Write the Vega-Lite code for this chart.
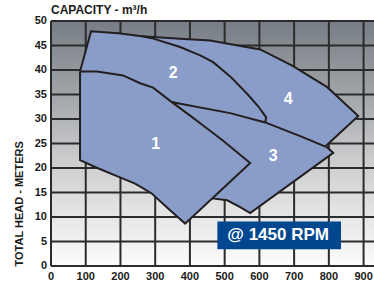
{
  "$schema": "https://vega.github.io/schema/vega-lite/v6.json",
  "width": 323,
  "height": 245,
  "autosize": "none",
  "padding": {"left": 51, "top": 21, "right": 0, "bottom": 18},
  "background": "white",
  "view": {"stroke": null},
  "title": {
    "text": "CAPACITY - m³/h",
    "anchor": "start",
    "frame": "group",
    "font": "Liberation Sans",
    "fontSize": 12,
    "fontWeight": "bold",
    "color": "#1a1a1a",
    "offset": -2
  },
  "datasets": {
    "bg": [{"x": 0, "x2": 930, "y": 0, "y2": 50}],
    "gridx": [{"v": 0}, {"v": 100}, {"v": 200}, {"v": 300}, {"v": 400}, {"v": 500}, {"v": 600}, {"v": 700}, {"v": 800}, {"v": 900}],
    "gridy": [{"v": 0}, {"v": 5}, {"v": 10}, {"v": 15}, {"v": 20}, {"v": 25}, {"v": 30}, {"v": 35}, {"v": 40}, {"v": 45}, {"v": 50}],
    "shapes": [
      {"region": "4", "i": 0, "x": 261.4, "y": 46.9},
      {"region": "4", "i": 1, "x": 371.8, "y": 46.4},
      {"region": "4", "i": 2, "x": 458.2, "y": 46.0},
      {"region": "4", "i": 3, "x": 602.3, "y": 44.2},
      {"region": "4", "i": 4, "x": 694.5, "y": 40.9},
      {"region": "4", "i": 5, "x": 795.4, "y": 36.5},
      {"region": "4", "i": 6, "x": 884.7, "y": 30.6},
      {"region": "4", "i": 7, "x": 775.0, "y": 23.4},
      {"region": "4", "i": 8, "x": 616.7, "y": 29.3},
      {"region": "4", "i": 9, "x": 348.7, "y": 33.4},
      {"region": "4", "i": 10, "x": 261.4, "y": 46.9},

      {"region": "2", "i": 0, "x": 83.6, "y": 39.7},
      {"region": "2", "i": 1, "x": 115.3, "y": 47.9},
      {"region": "2", "i": 2, "x": 194.0, "y": 47.5},
      {"region": "2", "i": 3, "x": 261.4, "y": 46.9},
      {"region": "2", "i": 4, "x": 290.2, "y": 46.5},
      {"region": "2", "i": 5, "x": 371.8, "y": 44.7},
      {"region": "2", "i": 6, "x": 429.4, "y": 43.0},
      {"region": "2", "i": 7, "x": 466.9, "y": 41.6},
      {"region": "2", "i": 8, "x": 515.9, "y": 38.7},
      {"region": "2", "i": 9, "x": 564.0, "y": 35.2},
      {"region": "2", "i": 10, "x": 596.5, "y": 32.6},
      {"region": "2", "i": 11, "x": 611.8, "y": 31.1},
      {"region": "2", "i": 12, "x": 619.6, "y": 30.3},
      {"region": "2", "i": 13, "x": 616.7, "y": 29.3},
      {"region": "2", "i": 14, "x": 348.7, "y": 33.4},
      {"region": "2", "i": 15, "x": 83.6, "y": 39.7},

      {"region": "3", "i": 0, "x": 348.7, "y": 33.4},
      {"region": "3", "i": 1, "x": 515.9, "y": 31.2},
      {"region": "3", "i": 2, "x": 616.7, "y": 29.3},
      {"region": "3", "i": 3, "x": 717.6, "y": 26.5},
      {"region": "3", "i": 4, "x": 795.4, "y": 24.2},
      {"region": "3", "i": 5, "x": 812.7, "y": 23.1},
      {"region": "3", "i": 6, "x": 573.5, "y": 10.8},
      {"region": "3", "i": 7, "x": 544.7, "y": 12.0},
      {"region": "3", "i": 8, "x": 507.2, "y": 13.4},
      {"region": "3", "i": 9, "x": 463.9, "y": 13.8},
      {"region": "3", "i": 10, "x": 429.4, "y": 15.4},
      {"region": "3", "i": 11, "x": 348.7, "y": 33.4},

      {"region": "1", "i": 0, "x": 83.6, "y": 39.7},
      {"region": "1", "i": 1, "x": 132.6, "y": 39.7},
      {"region": "1", "i": 2, "x": 207.5, "y": 38.9},
      {"region": "1", "i": 3, "x": 256.5, "y": 37.3},
      {"region": "1", "i": 4, "x": 294.0, "y": 36.4},
      {"region": "1", "i": 5, "x": 348.7, "y": 33.4},
      {"region": "1", "i": 6, "x": 400.6, "y": 30.7},
      {"region": "1", "i": 7, "x": 446.7, "y": 28.2},
      {"region": "1", "i": 8, "x": 492.8, "y": 25.7},
      {"region": "1", "i": 9, "x": 573.5, "y": 21.0},
      {"region": "1", "i": 10, "x": 386.2, "y": 8.65},
      {"region": "1", "i": 11, "x": 338.0, "y": 11.7},
      {"region": "1", "i": 12, "x": 290.2, "y": 14.8},
      {"region": "1", "i": 13, "x": 242.1, "y": 16.8},
      {"region": "1", "i": 14, "x": 184.4, "y": 18.5},
      {"region": "1", "i": 15, "x": 126.8, "y": 20.2},
      {"region": "1", "i": 16, "x": 83.6, "y": 21.6},
      {"region": "1", "i": 17, "x": 83.6, "y": 39.7}
    ],
    "labels": [
      {"label": "1", "x": 301.4, "y": 25.0},
      {"label": "2", "x": 351.6, "y": 39.3},
      {"label": "3", "x": 639.8, "y": 22.4},
      {"label": "4", "x": 683.0, "y": 34.0}
    ],
    "badge": [
      {"text": "@ 1450 RPM", "x": 479, "x2": 835, "y": 3.4, "y2": 9.1, "tx": 654, "ty": 6.27}
    ]
  },
  "layer": [
    {
      "data": {"name": "bg"},
      "mark": {
        "type": "rect",
        "color": {
          "gradient": "linear", "x1": 0, "y1": 0, "x2": 0, "y2": 1,
          "stops": [
            {"offset": 0, "color": "#777d85"},
            {"offset": 0.3, "color": "#a1a5a9"},
            {"offset": 0.55, "color": "#c9cacc"},
            {"offset": 0.8, "color": "#e6e6e6"},
            {"offset": 1, "color": "#fcfcfc"}
          ]
        }
      },
      "encoding": {
        "x": {
          "field": "x", "type": "quantitative",
          "scale": {"domain": [0, 930], "nice": false, "zero": false},
          "axis": {"title": null, "labels": false, "ticks": false, "domain": false}
        },
        "x2": {"field": "x2"},
        "y": {
          "field": "y", "type": "quantitative",
          "scale": {"domain": [0, 50], "nice": false},
          "axis": {
            "labels": false, "ticks": false, "domain": false,
            "title": "TOTAL HEAD - METERS",
            "titleX": -27, "titleY": 245, "titleAngle": -90,
            "titleAlign": "left", "titleBaseline": "bottom"
          }
        },
        "y2": {"field": "y2"}
      }
    },
    {
      "data": {"name": "gridx"},
      "mark": {"type": "rule", "color": "#2b2b2b", "strokeWidth": 2},
      "encoding": {"x": {"field": "v", "type": "quantitative"}}
    },
    {
      "data": {"name": "gridy"},
      "mark": {"type": "rule", "color": "#2b2b2b", "strokeWidth": 2},
      "encoding": {"y": {"field": "v", "type": "quantitative"}}
    },
    {
      "data": {"name": "gridx"},
      "mark": {"type": "text", "font": "Liberation Sans", "fontWeight": "bold", "fontSize": 11, "color": "#1a1a1a", "baseline": "top", "align": "center", "dy": 5},
      "encoding": {
        "x": {"field": "v", "type": "quantitative"},
        "y": {"datum": 0, "type": "quantitative"},
        "text": {"field": "v"}
      }
    },
    {
      "data": {"name": "gridy"},
      "mark": {"type": "text", "font": "Liberation Sans", "fontWeight": "bold", "fontSize": 11, "color": "#1a1a1a", "baseline": "middle", "align": "right", "dx": -4},
      "encoding": {
        "x": {"datum": 0, "type": "quantitative"},
        "y": {"field": "v", "type": "quantitative"},
        "text": {"field": "v"}
      }
    },
    {
      "data": {"name": "shapes"},
      "transform": [{"filter": "datum.region == '4'"}],
      "mark": {"type": "line", "fill": "#8a9cc8", "stroke": "#231f20", "strokeWidth": 2, "strokeJoin": "miter"},
      "encoding": {
        "x": {"field": "x", "type": "quantitative"},
        "y": {"field": "y", "type": "quantitative"},
        "order": {"field": "i", "type": "quantitative"}
      }
    },
    {
      "data": {"name": "shapes"},
      "transform": [{"filter": "datum.region == '2'"}],
      "mark": {"type": "line", "fill": "#8a9cc8", "stroke": "#231f20", "strokeWidth": 2, "strokeJoin": "miter"},
      "encoding": {
        "x": {"field": "x", "type": "quantitative"},
        "y": {"field": "y", "type": "quantitative"},
        "order": {"field": "i", "type": "quantitative"}
      }
    },
    {
      "data": {"name": "shapes"},
      "transform": [{"filter": "datum.region == '3'"}],
      "mark": {"type": "line", "fill": "#8a9cc8", "stroke": "#231f20", "strokeWidth": 2, "strokeJoin": "miter"},
      "encoding": {
        "x": {"field": "x", "type": "quantitative"},
        "y": {"field": "y", "type": "quantitative"},
        "order": {"field": "i", "type": "quantitative"}
      }
    },
    {
      "data": {"name": "shapes"},
      "transform": [{"filter": "datum.region == '1'"}],
      "mark": {"type": "line", "fill": "#8a9cc8", "stroke": "#231f20", "strokeWidth": 2, "strokeJoin": "miter"},
      "encoding": {
        "x": {"field": "x", "type": "quantitative"},
        "y": {"field": "y", "type": "quantitative"},
        "order": {"field": "i", "type": "quantitative"}
      }
    },
    {
      "data": {"name": "labels"},
      "mark": {"type": "text", "font": "Liberation Sans", "fontWeight": "bold", "fontSize": 16, "color": "white", "baseline": "middle", "align": "center"},
      "encoding": {
        "x": {"field": "x", "type": "quantitative"},
        "y": {"field": "y", "type": "quantitative"},
        "text": {"field": "label"}
      }
    },
    {
      "data": {"name": "badge"},
      "mark": {"type": "rect", "color": "#00478f"},
      "encoding": {
        "x": {"field": "x", "type": "quantitative"},
        "x2": {"field": "x2"},
        "y": {"field": "y", "type": "quantitative"},
        "y2": {"field": "y2"}
      }
    },
    {
      "data": {"name": "badge"},
      "mark": {"type": "text", "font": "Liberation Sans", "fontWeight": "bold", "fontSize": 17, "color": "white", "baseline": "middle", "align": "center"},
      "encoding": {
        "x": {"field": "tx", "type": "quantitative"},
        "y": {"field": "ty", "type": "quantitative"},
        "text": {"field": "text"}
      }
    }
  ],
  "config": {
    "axis": {
      "grid": false,
      "titleFont": "Liberation Sans",
      "titleFontWeight": "bold",
      "titleFontSize": 11,
      "titleColor": "#1a1a1a"
    },
    "text": {"clip": false}
  }
}
